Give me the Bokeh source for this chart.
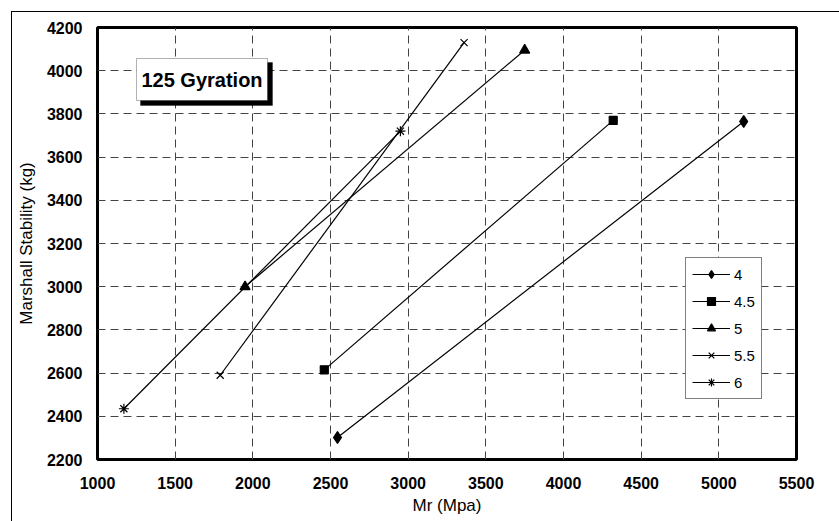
from bokeh.plotting import figure
from bokeh.models import Range1d, FixedTicker, BoxAnnotation, Label, Legend, LegendItem
from bokeh.embed import file_html
from bokeh.resources import INLINE

# ---- data ----
x_ticks = [1000, 1500, 2000, 2500, 3000, 3500, 4000, 4500, 5000, 5500]
y_ticks = [2200, 2400, 2600, 2800, 3000, 3200, 3400, 3600, 3800, 4000, 4200]
series_names = ["4", "4.5", "5", "5.5", "6"]
mr_4 = [2545, 5160]
ms_4 = [2302, 3765]
mr_45 = [2460, 4320]
ms_45 = [2615, 3770]
mr_5 = [1950, 3750]
ms_5 = [3000, 4095]
mr_55 = [1790, 3360]
ms_55 = [2590, 4130]
mr_6 = [1170, 2950]
ms_6 = [2435, 3720]
title_text = "125 Gyration"
x_title = "Mr (Mpa)"
y_title = "Marshall Stability (kg)"

FONT = "Liberation Sans"

p = figure(frame_width=699, frame_height=432,
           min_border_left=85, min_border_right=43, min_border_top=15, min_border_bottom=62,
           x_range=Range1d(x_ticks[0], x_ticks[-1]), y_range=Range1d(y_ticks[0], y_ticks[-1]),
           output_backend="svg", toolbar_location=None)
p.margin = (11, 0, 0, 11)
p.styles = {"border-left": "1px solid black", "border-top": "1px solid black"}
p.background_fill_color = "white"
p.border_fill_color = "white"
p.outline_line_color = "black"
p.outline_line_width = 3

for ax in (p.xaxis[0], p.yaxis[0]):
    ax.major_tick_in = 0
    ax.major_tick_out = 0
    ax.minor_tick_in = 0
    ax.minor_tick_out = 0
    ax.axis_line_color = None
    ax.major_label_text_font = FONT
    ax.major_label_text_font_style = "bold"
    ax.major_label_text_font_size = "16px"
    ax.major_label_text_color = "black"
    ax.axis_label_text_font = FONT
    ax.axis_label_text_font_style = "normal"
    ax.axis_label_text_font_size = "17px"
    ax.axis_label_text_color = "black"

p.xaxis.ticker = FixedTicker(ticks=x_ticks)
p.yaxis.ticker = FixedTicker(ticks=y_ticks)
p.xaxis.axis_label = x_title
p.yaxis.axis_label = y_title
p.xaxis.major_label_standoff = 17
p.yaxis.major_label_standoff = 15
p.xaxis.axis_label_standoff = 4
p.yaxis.axis_label_standoff = 8

for g in (p.xgrid[0], p.ygrid[0]):
    g.grid_line_color = "#444444"
    g.grid_line_dash = "8 5"
    g.grid_line_width = 1
p.xgrid.ticker = FixedTicker(ticks=x_ticks)
p.ygrid.ticker = FixedTicker(ticks=y_ticks)

items = []
specs = [
    (mr_4, ms_4, "diamond", 12),
    (mr_45, ms_45, "square", 8),
    (mr_5, ms_5, "triangle", 10),
    (mr_55, ms_55, "x", 10),
    (mr_6, ms_6, "asterisk", 10),
]
for name, (xs, ys, mk, sz) in zip(series_names, specs):
    r1 = p.line(xs, ys, line_color="black", line_width=1.2)
    r2 = p.scatter(xs, ys, marker=mk, size=sz, fill_color="black", line_color="black", line_width=1.2)
    items.append(LegendItem(label=name, renderers=[r1, r2]))

legend = Legend(items=items, location=(588, 60), orientation="vertical",
                label_text_font=FONT, label_text_font_size="15px", label_text_color="black",
                glyph_width=38, glyph_height=20, label_height=20, spacing=7,
                padding=6, margin=0, label_standoff=4,
                border_line_color="black", border_line_width=1,
                background_fill_color="white", background_fill_alpha=1)
p.add_layout(legend, "center")

# title box with shadow (screen units relative to frame)
shadow = BoxAnnotation(left=43, right=175, top=397, bottom=354,
                       left_units="screen", right_units="screen", top_units="screen", bottom_units="screen",
                       fill_color="black", fill_alpha=1, line_color="black", level="overlay")
box = BoxAnnotation(left=39, right=170, top=401, bottom=359,
                    left_units="screen", right_units="screen", top_units="screen", bottom_units="screen",
                    fill_color="white", fill_alpha=1, line_color="black", line_width=1, level="overlay")
p.add_layout(shadow)
p.add_layout(box)
lbl = Label(x=104.5, y=380, x_units="screen", y_units="screen", text=title_text,
            text_font=FONT, text_font_style="bold", text_font_size="20px",
            text_align="center", text_baseline="middle", text_color="black", level="overlay")
p.add_layout(lbl)

open("out.html", "w").write(file_html(p, INLINE))
